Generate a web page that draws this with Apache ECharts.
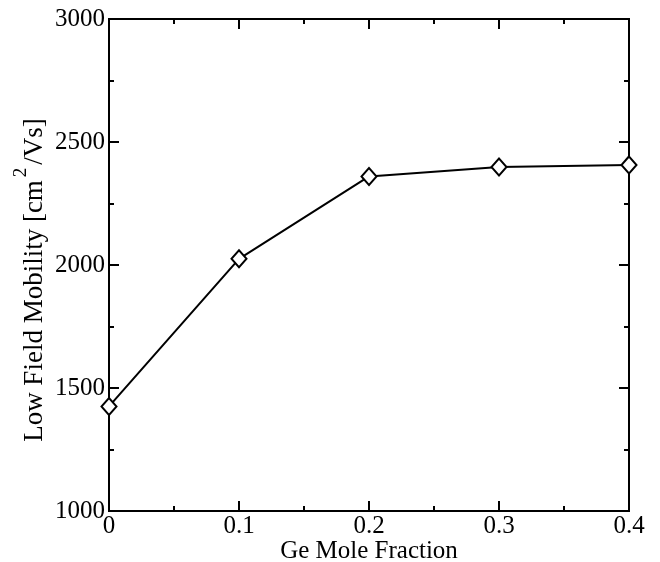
<!DOCTYPE html>
<html><head><meta charset="utf-8">
<script src="https://cdn.jsdelivr.net/npm/echarts@6/dist/echarts.min.js"></script>
<style>html,body{margin:0;padding:0;background:#fff}#c{width:660px;height:562px}</style>
</head><body><div id="c"></div>
<script>
const geFraction = [0, 0.1, 0.2, 0.3, 0.4];
const mobility = [1425, 2025, 2360, 2398, 2407];
const xTicks = [0, 0.1, 0.2, 0.3, 0.4];
const yTicks = [1000, 1500, 2000, 2500, 3000];

const font = 'Liberation Serif';
const gridRect = {left: 109, right: 31, top: 19, bottom: 51, outerBoundsMode: 'none', containLabel: false};
function ax(extra, tickLen, showLine) {
  return Object.assign({
    type: 'value',
    axisLine: {show: showLine, onZero: false, lineStyle: {color: '#000', width: 2}},
    axisTick: {inside: true, length: tickLen, lineStyle: {color: '#000', width: 2}},
    axisLabel: {show: false},
    splitLine: {show: false}
  }, extra);
}
const xMaj = {min: 0, max: 0.4, interval: 0.1};
const xMin = {min: 0, max: 0.4, interval: 0.05};
const yMaj = {min: 1000, max: 3000, interval: 500};
const yMin = {min: 1000, max: 3000, interval: 250};

const chart = echarts.init(document.getElementById('c'));
chart.setOption({
  animation: false,
  backgroundColor: '#fff',
  grid: [Object.assign({}, gridRect), Object.assign({}, gridRect)],
  xAxis: [
    ax(Object.assign({gridIndex: 0, position: 'bottom',
      name: 'Ge Mole Fraction', nameLocation: 'middle', nameGap: 28, nameMoveOverlap: false,
      nameTextStyle: {fontFamily: font, fontSize: 25, color: '#000'},
      axisLabel: {show: true, fontFamily: font, fontSize: 25, color: '#000', margin: 3,
        formatter: v => String(Math.round(v * 10) / 10)}}, xMaj), 10, true),
    ax(Object.assign({gridIndex: 0, position: 'top'}, xMaj), 10, true),
    ax(Object.assign({gridIndex: 1, position: 'bottom'}, xMin), 5, true),
    ax(Object.assign({gridIndex: 1, position: 'top'}, xMin), 5, true)
  ],
  yAxis: [
    ax(Object.assign({gridIndex: 0, position: 'left',
      name: '{a|Low Field Mobility [cm}{s|2}{a|/Vs]}', nameLocation: 'middle', nameGap: 61, nameRotate: 90, nameMoveOverlap: false,
      nameTextStyle: {fontFamily: font, fontSize: 27, color: '#000', padding: [0, 30, 0, 0],
        rich: {a: {fontFamily: font, fontSize: 27, color: '#000', lineHeight: 36, verticalAlign: 'bottom'},
               s: {fontFamily: font, fontSize: 19, color: '#000', lineHeight: 36, verticalAlign: 'top', padding: [0, 3, 0, 3]}}},
      axisLabel: {show: true, fontFamily: font, fontSize: 25, color: '#000', margin: 4,
        formatter: v => String(v)}}, yMaj), 10, true),
    ax(Object.assign({gridIndex: 0, position: 'right'}, yMaj), 10, true),
    ax(Object.assign({gridIndex: 1, position: 'left'}, yMin), 5, true),
    ax(Object.assign({gridIndex: 1, position: 'right'}, yMin), 5, true)
  ],
  series: [{
    type: 'line',
    xAxisIndex: 0, yAxisIndex: 0,
    data: geFraction.map((x, i) => [x, mobility[i]]),
    symbol: 'diamond', symbolSize: [15, 17],
    lineStyle: {color: '#000', width: 2},
    itemStyle: {color: '#fff', borderColor: '#000', borderWidth: 2},
    clip: false, z: 5
  }]
});
</script></body></html>
